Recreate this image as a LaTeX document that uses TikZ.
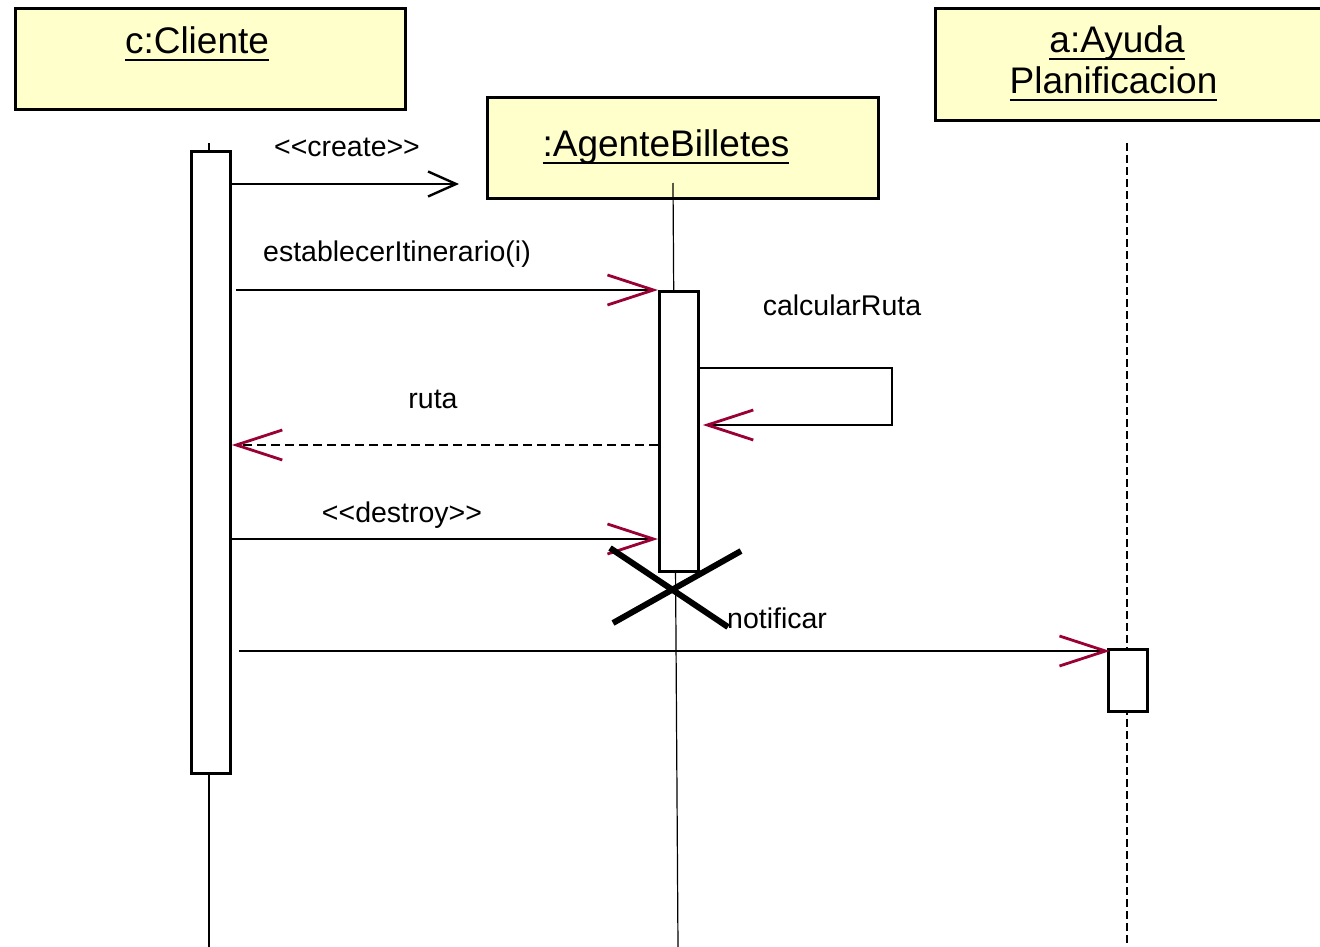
\documentclass[tikz,border=0pt]{standalone}
\usepackage{fontspec}
\setmainfont{Liberation Sans}
\usetikzlibrary{arrows.meta}
\definecolor{umlyellow}{HTML}{FFFFCC}
\definecolor{umlred}{HTML}{990033}
% underlined object name with a fixed rule below the baseline
\newcommand\objname[1]{\setbox0\hbox{#1}\rlap{\rule[-7.5pt]{\wd0}{2.8pt}}\box0}
\begin{document}
\begin{tikzpicture}[x=1pt, y=-1pt,
  objbox/.style={draw, line width=2.6pt, fill=umlyellow, rectangle, inner sep=0pt, anchor=north west},
  actbox/.style={draw, line width=2.8pt, fill=white, rectangle, inner sep=0pt, anchor=north west},
  title/.style={font=\fontsize{37}{42}\selectfont, anchor=base, inner sep=0pt},
  msglabel/.style={font=\fontsize{28.5}{32}\selectfont, anchor=base, inner sep=0pt},
  lifeline/.style={line width=1.2pt},
  msg/.style={line width=2.4pt, -{Straight Barb[length=46pt,width=30pt,color=umlred,line width=2.8pt]}},
  createmsg/.style={line width=2.4pt, -{Straight Barb[length=28pt,width=25pt,line width=2.4pt]}},
  destroymark/.style={line width=6pt}]
\useasboundingbox (0,0) rectangle (1320,947);

% object heads
\node[objbox, minimum width=390pt, minimum height=101pt] (cli) at (14,7) {};
\node[objbox, minimum width=391pt, minimum height=101pt] (ag) at (486,96) {};
\node[objbox, minimum width=390pt, minimum height=112pt] (ay) at (934,7) {};

\node[title] (cliname) at (197,54) {\objname{c:Cliente}};
\node[title] (agname) at (666,157) {\objname{:AgenteBilletes}};
\node[title] (ayname1) at (1117,53) {\objname{a:Ayuda}};
\node[title] (ayname2) at (1113.5,94) {\objname{Planificacion}};

% lifelines
\coordinate (clitop) at (209,143);
\coordinate (clibot) at (209,947);
\coordinate (agtop) at (673,183);
\coordinate (agbot) at (678,947);
\coordinate (aytop) at (1127,143);
\coordinate (aybot) at (1127,947);
\draw[lifeline] (clitop) -- (clibot);
\draw[lifeline] (agtop) -- (agbot);
\draw[lifeline, line width=2.6pt, dash pattern=on 8pt off 4pt] (aytop) -- (aybot);

% activations
\node[actbox, minimum width=39pt, minimum height=622pt] (cact) at (190,150) {};
\node[actbox, minimum width=39pt, minimum height=280pt] (aact) at (658,290) {};
\node[actbox, minimum width=39pt, minimum height=62pt] (yact) at (1107,648) {};

% create
\coordinate (crend) at (459,184);
\draw[createmsg] (cact.east |- crend) -- (crend);
\node[msglabel] (crlabel) at (347,157) {<{}<create>{}>};

% establecerItinerario
\draw[msg] ([xshift=4pt]cact.east |- aact.north) -- (aact.north west);
\node[msglabel] (estlabel) at (397,261) {establecerItinerario(i)};

% calcularRuta (self call)
\coordinate (selfa) at (892,368);
\coordinate (selfb) at (892,425);
\draw[msg] (aact.east |- selfa) -- (selfa) -- (selfb) -- ([xshift=3pt]aact.east |- selfb);
\node[msglabel] (callabel) at (842,315) {calcularRuta};

% ruta (return)
\coordinate (rutay) at (0,445);
\draw[msg, dash pattern=on 9pt off 5pt] (aact.west |- rutay) -- (cact.east |- rutay);
\node[msglabel] (rutalabel) at (433,408) {ruta};

% destroy
\coordinate (desty) at (0,539);
\draw[msg] (cact.east |- desty) -- (aact.west |- desty);
\node[msglabel] (destlabel) at (402,522) {<{}<destroy>{}>};

% destruction mark
\coordinate (xa) at (610,548);
\coordinate (xb) at (728,627);
\coordinate (xc) at (741,551);
\coordinate (xd) at (613,623);
\draw[destroymark] (xa) -- (xb);
\draw[destroymark] (xc) -- (xd);

% notificar
\coordinate (noty) at (0,651);
\draw[msg] ([xshift=7pt]cact.east |- noty) -- ([xshift=3pt]yact.west |- noty);
\node[msglabel, anchor=base west] (notlabel) at (727,628) {notificar};
\end{tikzpicture}
\end{document}
